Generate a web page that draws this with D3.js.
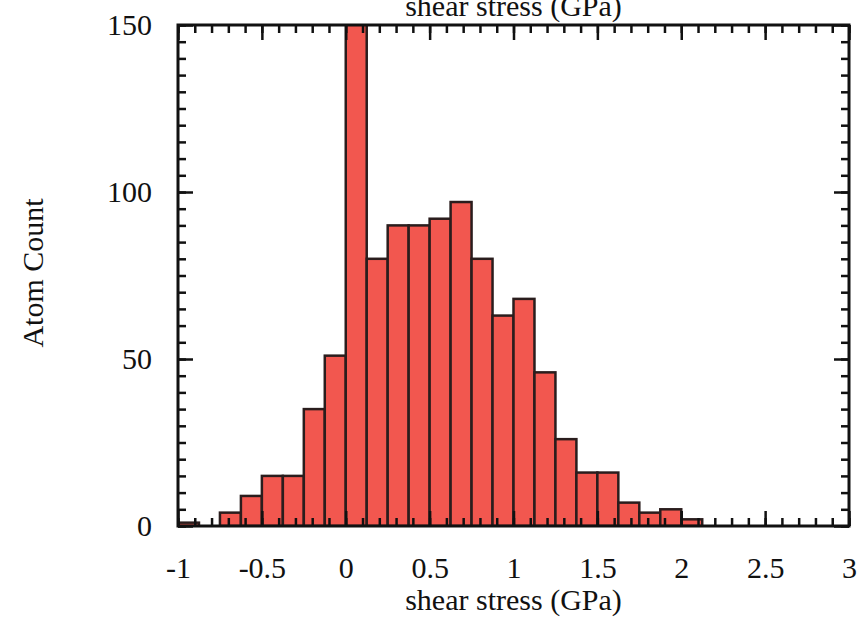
<!DOCTYPE html>
<html>
<head>
<meta charset="utf-8">
<script src="https://cdn.jsdelivr.net/npm/d3@7"></script>
<style>
  body { margin: 0; background: #fff; }
  text { font-family: "Liberation Serif", "Times New Roman", serif; fill: #111; }
</style>
</head>
<body>
<svg id="chart" width="860" height="617"></svg>
<script>
// histogram bins of width 0.125 GPa, left edges
const binStarts = [-1, -0.875, -0.75, -0.625, -0.5, -0.375, -0.25, -0.125,
  0, 0.125, 0.25, 0.375, 0.5, 0.625, 0.75, 0.875,
  1, 1.125, 1.25, 1.375, 1.5, 1.625, 1.75, 1.875, 2];
const binWidth = 0.125;
const counts = [1, 0, 4, 9, 15, 15, 35, 51,
  175, 80, 90, 90, 92, 97, 80, 63,
  68, 46, 26, 16, 16, 7, 4, 5, 2];

const xMajor = [-1, -0.5, 0, 0.5, 1, 1.5, 2, 2.5, 3];
const xLabels = ["-1", "-0.5", "0", "0.5", "1", "1.5", "2", "2.5", "3"];
const yMajor = [0, 50, 100, 150];

const svg = d3.select("#chart");
const margin = {top: 25, right: 11, bottom: 91, left: 178};
const width = +svg.attr("width") - margin.left - margin.right;
const height = +svg.attr("height") - margin.top - margin.bottom;

const x = d3.scaleLinear().domain([-1, 3]).range([0, width]);
const y = d3.scaleLinear().domain([0, 150]).range([height, 0]);

const xMinor = d3.range(-10, 31).map(function(i) { return i / 10; });
const yMinor = d3.range(0, 31).map(function(i) { return i * 5; });

const g = svg.append("g")
  .attr("transform", "translate(" + margin.left + "," + margin.top + ")");

svg.append("defs").append("clipPath")
  .attr("id", "plot-clip")
  .append("rect")
    .attr("width", width)
    .attr("height", height);

const data = binStarts.map(function(s, i) { return {start: s, count: counts[i]}; });

g.append("g")
  .attr("clip-path", "url(#plot-clip)")
  .selectAll(".bar")
  .data(data.filter(function(d) { return d.count > 0; }))
  .enter()
  .append("rect")
    .attr("class", "bar")
    .attr("x", function(d) { return x(d.start); })
    .attr("y", function(d) { return y(d.count); })
    .attr("width", function(d) { return x(d.start + binWidth) - x(d.start); })
    .attr("height", function(d) { return height - y(d.count); })
    .attr("fill", "#f2574f")
    .attr("stroke", "#2a1d1d")
    .attr("stroke-width", 2.5);

const styleTicks = (sel) => {
  sel.select(".domain").remove();
  sel.selectAll(".tick line").attr("stroke", "#111").attr("stroke-width", 2.5);
  sel.selectAll(".tick text").style("font-size", "30px").attr("fill", "#111");
};

// minor ticks on all sides, pointing in
g.append("g").attr("transform", "translate(0," + height + ")")
  .call(d3.axisBottom(x).tickValues(xMinor).tickSize(-8).tickFormat(""))
  .call(styleTicks);
g.append("g")
  .call(d3.axisTop(x).tickValues(xMinor).tickSize(-8).tickFormat(""))
  .call(styleTicks);
g.append("g")
  .call(d3.axisLeft(y).tickValues(yMinor).tickSize(-8).tickFormat(""))
  .call(styleTicks);
g.append("g").attr("transform", "translate(" + width + ",0)")
  .call(d3.axisRight(y).tickValues(yMinor).tickSize(-8).tickFormat(""))
  .call(styleTicks);

// major ticks
g.append("g").attr("transform", "translate(0," + height + ")")
  .call(d3.axisBottom(x).tickValues(xMajor).tickSize(-15).tickPadding(31)
    .tickFormat(function(d, i) { return xLabels[i]; }))
  .call(styleTicks);
g.append("g")
  .call(d3.axisTop(x).tickValues(xMajor).tickSize(-15).tickFormat(""))
  .call(styleTicks);
g.append("g")
  .call(d3.axisLeft(y).tickValues(yMajor).tickSize(-15).tickPadding(26)
    .tickFormat(d3.format("d")))
  .call(styleTicks);
g.append("g").attr("transform", "translate(" + width + ",0)")
  .call(d3.axisRight(y).tickValues(yMajor).tickSize(-15).tickFormat(""))
  .call(styleTicks);

g.selectAll(".tick text").attr("font-family", null);

// frame
g.append("rect")
  .attr("width", width)
  .attr("height", height)
  .attr("fill", "none")
  .attr("stroke", "#111")
  .attr("stroke-width", 3);

g.append("text")
  .attr("x", width / 2)
  .attr("y", height + 84)
  .attr("text-anchor", "middle")
  .style("font-size", "30px")
  .text("shear stress (GPa)");

g.append("text")
  .attr("x", width / 2)
  .attr("y", -9)
  .attr("text-anchor", "middle")
  .style("font-size", "30px")
  .text("shear stress (GPa)");

svg.append("text")
  .attr("transform", "translate(43,273) rotate(-90)")
  .attr("text-anchor", "middle")
  .style("font-size", "30px")
  .text("Atom Count");
</script>
</body>
</html>
